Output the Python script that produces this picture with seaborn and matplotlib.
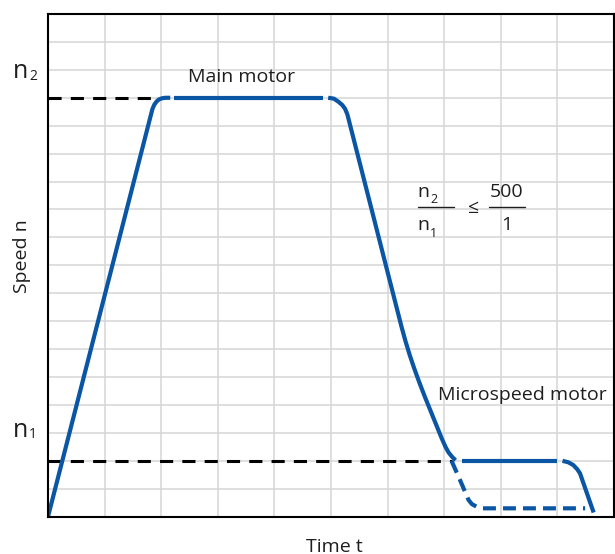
import matplotlib
matplotlib.use("Agg")
import matplotlib.pyplot as plt
import seaborn as sns
import pandas as pd

# ---- data (time units = grid columns, speed units = grid rows) ----
n2_level = 15
n1_level = 2

ramp_t = [0, 1.845, 1.88, 1.92, 1.96, 2.01, 2.07, 2.16]
ramp_n = [0, 14.6, 14.76, 14.87, 14.94, 14.98, 15.0, 15.0]

main_top_t = [2.23, 4.86]
main_top_n = [15, 15]

decel_t = [4.95, 5.05, 5.13, 5.20, 5.25, 5.29, 6.246, 6.314, 6.389, 6.472,
           6.562, 6.657, 6.757, 6.857, 6.957, 7.023, 7.077, 7.137, 7.20]
decel_n = [15, 14.97, 14.86, 14.74, 14.6, 14.4, 6.8, 6.3, 5.8, 5.3,
           4.8, 4.3, 3.8, 3.3, 2.8, 2.5, 2.3, 2.15, 2.02]

micro_top_t = [7.31, 9.0]
micro_top_n = [2, 2]

micro_stop_t = [9.09, 9.19, 9.28, 9.35, 9.40, 9.64]
micro_stop_n = [2, 1.95, 1.85, 1.70, 1.55, 0.15]

coast_t = [7.13, 7.28, 7.43, 7.49, 7.58, 7.67, 9.49]
coast_n = [2.0, 1.31, 0.60, 0.45, 0.35, 0.30, 0.30]

ref_n2_t = [0, 1.95]
ref_n1_t = [0, 7.14]

# ---- style ----
sns.set_style("white")
plt.rcParams['font.family'] = ['Open Sans', 'DejaVu Sans']
TXT = "#1e1e1e"
BLUE = "#0a56a5"

W, H = 615, 554
fig = plt.figure(figsize=(W / 100, H / 100), dpi=100)
L, R, T, B = 48, 614, 14, 516.7
ax = fig.add_axes([L / W, 1 - B / H, (R - L) / W, (B - T) / H])

ax.set_xlim(0, 10)
ax.set_ylim(0, 18)
ax.set_xticks(range(11))
ax.set_yticks(range(19))
ax.set_xticklabels([])
ax.set_yticklabels([])
ax.tick_params(length=0)
ax.grid(True, color="#d6d6d6", lw=1.1)
ax.set_axisbelow(True)
for s in ax.spines.values():
    s.set_color("black")
    s.set_linewidth(1.5)


def seg(t, n, **kw):
    df = pd.DataFrame({"t": t, "n": n})
    sns.lineplot(data=df, x="t", y="n", ax=ax, sort=False, estimator=None,
                 legend=False, **kw)


# reference dashed lines
seg(ref_n2_t, [n2_level] * 2, color="black", lw=2.2, linestyle=(0, (4.3, 3.0)))
seg(ref_n1_t, [n1_level] * 2, color="black", lw=2.2, linestyle=(0, (4.3, 3.0)))

blue_kw = dict(color=BLUE, lw=3.0, solid_capstyle="butt", solid_joinstyle="round")
seg(ramp_t, ramp_n, **blue_kw)
seg(main_top_t, main_top_n, **blue_kw)
seg(decel_t, decel_n, **blue_kw)
seg(micro_top_t, micro_top_n, **blue_kw)
seg(micro_stop_t, micro_stop_n, **blue_kw)
seg(coast_t, coast_n, color=BLUE, lw=3.0, linestyle=(0, (3.1, 1.7)))

ax.set_xlabel("")
ax.set_ylabel("")


def ftxt(px, py, s, **kw):
    kw.setdefault("color", TXT)
    fig.text(px / W, 1 - py / H, s, **kw)


FS = 14
# axis titles
ftxt(334, 551.5, "Time t", fontsize=FS, ha="center", va="baseline")
ftxt(22, 256, "Speed n", fontsize=FS, ha="center", va="center", rotation=90)

# n2 / n1 labels
ftxt(13, 78, "n", fontsize=18, ha="left", va="baseline")
ftxt(29, 80, "2", fontsize=10, ha="left", va="baseline")
ftxt(13, 437, "n", fontsize=18, ha="left", va="baseline")
ftxt(29, 438, "1", fontsize=10, ha="left", va="baseline")

# curve labels
ftxt(188, 82.5, "Main motor", fontsize=FS, ha="left", va="baseline")
ftxt(437.5, 399.5, "Microspeed motor", fontsize=FS, ha="left", va="baseline")

# ratio
ftxt(417.5, 196.7, "n", fontsize=FS, ha="left", va="baseline")
ftxt(430, 203, "2", fontsize=9, ha="left", va="baseline")
ftxt(417.5, 230, "n", fontsize=FS, ha="left", va="baseline")
ftxt(430, 236.5, "1", fontsize=9, ha="left", va="baseline")
ftxt(472.5, 213, "≤", fontsize=FS, ha="center", va="baseline")
ftxt(507, 197, "500", fontsize=FS, ha="center", va="baseline")
ftxt(507, 230, "1", fontsize=FS, ha="center", va="baseline")
for x0, x1 in [(418, 454), (489, 525)]:
    fig.add_artist(plt.Line2D([x0 / W, x1 / W], [1 - 206.7 / H] * 2,
                              color=TXT, lw=1.0, transform=fig.transFigure))

fig.savefig("out.png", dpi=100)
